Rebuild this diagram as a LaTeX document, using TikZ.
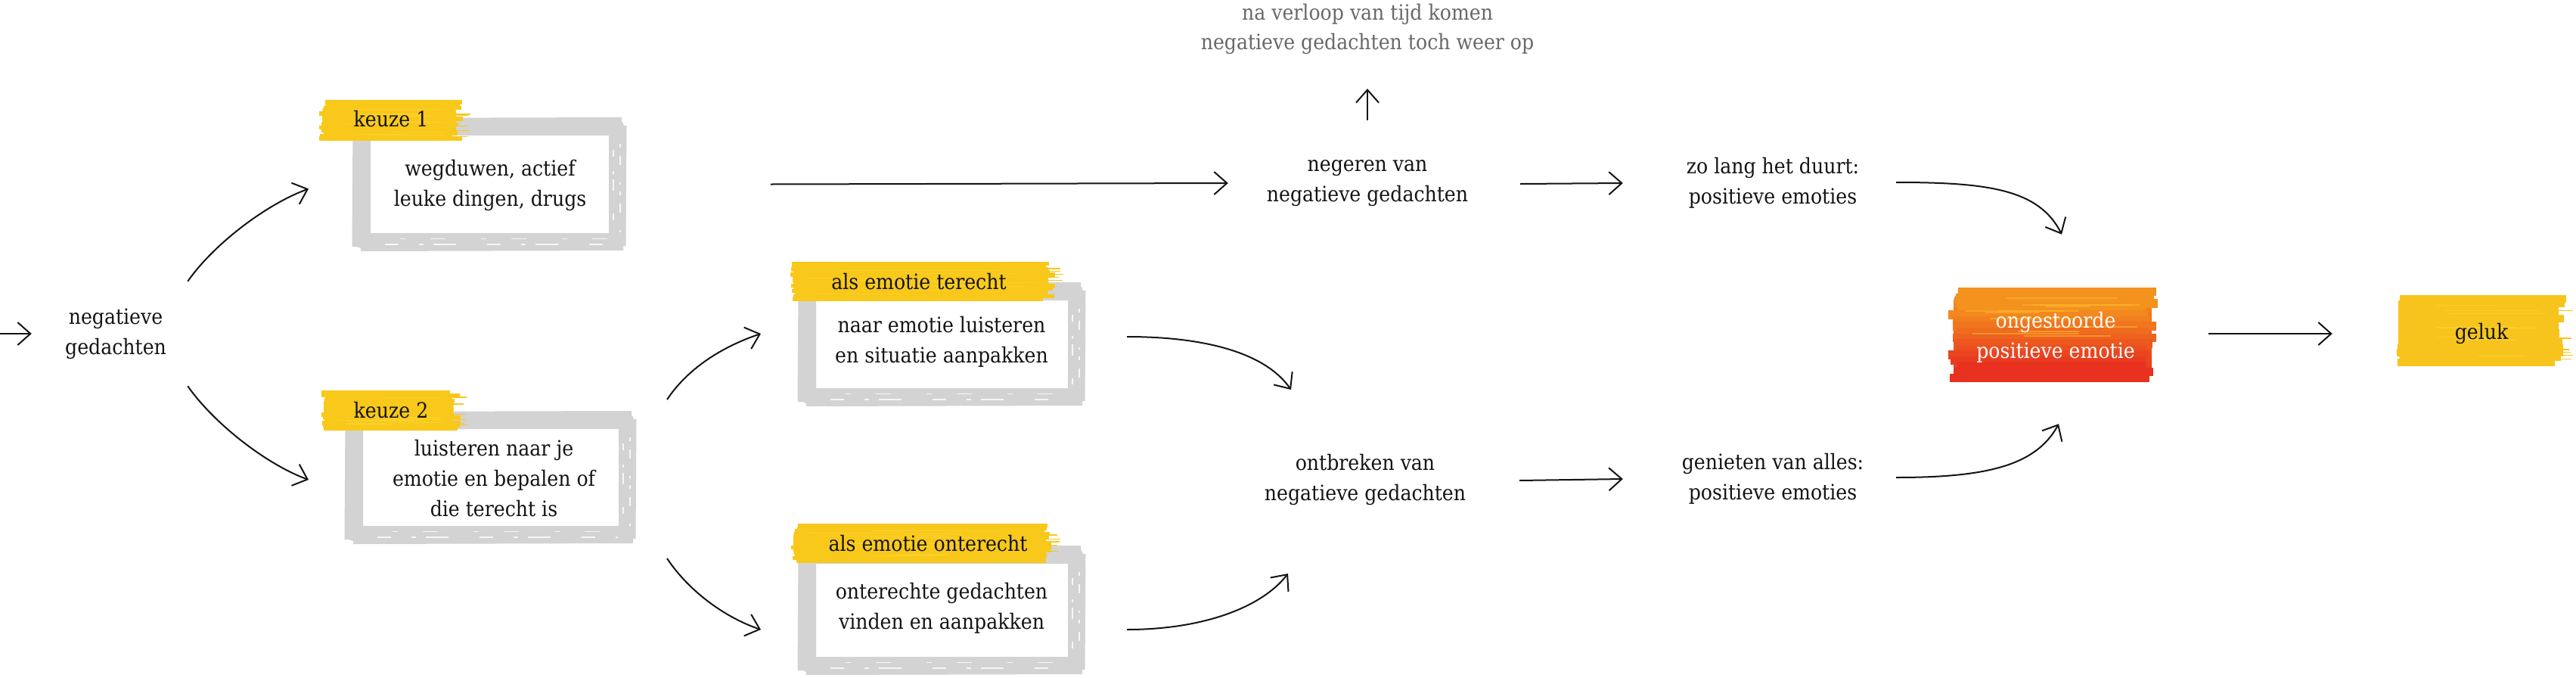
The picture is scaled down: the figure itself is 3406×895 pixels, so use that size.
\documentclass[tikz,border=0pt]{standalone}
\usepackage{fontspec}
\setmainfont{DejaVu Serif Condensed}
\usetikzlibrary{arrows.meta}
\definecolor{ink}{HTML}{141414}
\definecolor{greytext}{HTML}{686868}
\definecolor{framegrey}{HTML}{D3D3D3}
\definecolor{yel}{HTML}{F8C81A}
\definecolor{yellight}{HTML}{FFD83C}
\definecolor{yelgold}{HTML}{F6C41C}
\definecolor{brorange}{HTML}{F4921E}
\definecolor{brred}{HTML}{E8321F}
\definecolor{bryellow}{HTML}{FBB42C}

\newcommand\brush[6]{% x0 y0 x1 y1 main streak
  \fill[#5, rounded corners=12pt] (#1+6,#2+3) rectangle (#3-14,#4-3);
  \foreach \i in {0,...,13}{%
    \pgfmathsetmacro\yy{#2+(\i+0.5)*(#4-#2)/14}%
    \pgfmathsetmacro\xa{#1+2+rnd*10}%
    \pgfmathsetmacro\xb{#3-4-rnd*18}%
    \pgfmathsetmacro\lw{(#4-#2)/14*1.5}%
    \draw[#5, line width=\lw pt] (\xa,\yy) -- (\xb,\yy);
  }
  \foreach \i in {0,...,5}{%
    \pgfmathsetmacro\yy{#2+4+rnd*(#4-#2-8)}%
    \pgfmathsetmacro\xa{#3-40-rnd*30}%
    \pgfmathsetmacro\xb{#3+rnd*6}%
    \draw[#5, line width=1.3pt] (\xa,\yy) -- (\xb,\yy);
  }
  \foreach \i in {0,...,9}{%
    \pgfmathsetmacro\yy{#2+6+rnd*(#4-#2-12)}%
    \pgfmathsetmacro\xa{#1+20+rnd*(#3-#1)*0.4}%
    \pgfmathsetmacro\xb{min(\xa+40+rnd*(#3-#1)*0.5,#3-30)}%
    \draw[#6, line width=1.2pt, opacity=0.5] (\xa,\yy) -- (\xb,\yy);
  }
}
\newcommand\firebrush[4]{% x0 y0 x1 y1
  \shade[rounded corners=12pt, top color=brorange, bottom color=brred] (#1+8,#2+4) rectangle (#3-10,#4-4);
  \foreach \i in {0,...,15}{%
    \pgfmathsetmacro\yy{#2+(\i+0.5)*(#4-#2)/16}%
    \pgfmathsetmacro\xa{#1+rnd*14}%
    \pgfmathsetmacro\xb{#3-rnd*18}%
    \pgfmathsetmacro\lw{(#4-#2)/16*1.5}%
    \pgfmathsetmacro\pc{max(0,min(100,130-\i*150/15))}%
    \draw[brorange!\pc!brred, line width=\lw pt] (\xa,\yy) -- (\xb,\yy);
  }
  \foreach \i in {0,...,11}{%
    \pgfmathsetmacro\yy{#2+8+rnd*(#4-#2)*0.45}%
    \pgfmathsetmacro\xa{#1+20+rnd*(#3-#1)*0.4}%
    \pgfmathsetmacro\xb{min(\xa+40+rnd*(#3-#1)*0.5,#3-25)}%
    \draw[bryellow, line width=2pt, opacity=0.6] (\xa,\yy) -- (\xb,\yy);
  }
}
\newcommand\roughframe[1]{%
  \draw[framegrey, line width=6pt] ([shift={(-4,-9)}]#1.north west) -- ([shift={(6,-10)}]#1.north east);
  \draw[framegrey, line width=7pt] ([shift={(-9,-4)}]#1.north west) -- ([shift={(-10,7)}]#1.south west);
  \draw[framegrey, line width=6pt] ([shift={(-2,10)}]#1.south west) -- ([shift={(8,9)}]#1.south east);
  \draw[framegrey, line width=5pt] ([shift={(10,-2)}]#1.north east) -- ([shift={(9,6)}]#1.south east);
  \draw[white, opacity=0.8, line width=1.6pt, dash pattern=on 5pt off 11pt on 12pt off 23pt on 3pt off 9pt] ([shift={(4,22)}]#1.north east) -- ([shift={(4,-10)}]#1.south east);
  \draw[white, opacity=0.8, line width=1.2pt, dash pattern=on 9pt off 19pt on 4pt off 7pt on 15pt off 30pt] ([shift={(-5,30)}]#1.north east) -- ([shift={(-5,-16)}]#1.south east);
  \draw[white, opacity=0.8, line width=1.2pt, dash pattern=on 18pt off 27pt on 6pt off 13pt on 30pt off 41pt] ([shift={(30,4)}]#1.south west) -- ([shift={(-12,4)}]#1.south east);
  \draw[white, opacity=0.8, line width=1pt, dash pattern=on 7pt off 33pt on 20pt off 47pt] ([shift={(50,-4)}]#1.south west) -- ([shift={(-12,-4)}]#1.south east);
}

\begin{document}
\begin{tikzpicture}[x=1pt,y=-1pt,
  txt/.style={font=\fontsize{28}{40}\selectfont, text=ink, align=center, inner sep=0pt},
  frame/.style={draw=framegrey, line width=22pt, inner sep=0pt, outer sep=0pt, rounded corners=5pt},
  arr/.style={draw=ink, line width=2pt, -{Straight Barb[length=17pt,width=30pt,line width=2pt]}}]
\useasboundingbox (0,0) rectangle (3406,895);
\pgfmathsetseed{4711}

% frames
\node[frame, minimum width=337pt, minimum height=151pt] (k1f) at (647.5,243.5) {};
\node[frame, minimum width=360pt, minimum height=150pt] (k2f) at (649,631) {};
\node[frame, minimum width=355pt, minimum height=138pt] (tf) at (1245.5,455) {};
\node[frame, minimum width=355pt, minimum height=145pt] (of) at (1245.5,806.5) {};
\roughframe{k1f}
\roughframe{k2f}
\roughframe{tf}
\roughframe{of}

% brushes
\brush{420}{133}{617}{185}{yel}{yellight}
\brush{422}{517}{613}{568}{yel}{yellight}
\brush{1043}{347}{1400}{397}{yel}{yellight}
\brush{1043}{693}{1397}{743}{yel}{yellight}
\brush{3165}{392}{3397}{482}{yelgold}{yellight}
\firebrush{2575}{382}{2855}{503}

% text nodes
\coordinate (start) at (0,441);
\node[txt, minimum width=222pt, minimum height=138pt] (neg) at (153,441) {negatieve\\gedachten};
\node[txt] (k1l) at (517,157) {keuze 1};
\node[txt] (k2l) at (517,542) {keuze 2};
\node[txt] (k1t) at (648,245) {wegduwen, actief\\leuke dingen, drugs};
\node[txt] (k2t) at (653,632) {luisteren naar je\\emotie en bepalen of\\die terecht is};
\node[txt] (tl) at (1215,372) {als emotie terecht};
\node[txt] (ol) at (1227,718) {als emotie onterecht};
\node[txt] (tt) at (1245,452) {naar emotie luisteren\\en situatie aanpakken};
\node[txt] (ot) at (1245,804) {onterechte gedachten\\vinden en aanpakken};
\node[txt, minimum width=368pt, minimum height=166pt] (ng) at (1808,242) {negeren van\\negatieve gedachten};
\node[txt, text=greytext, minimum height=158pt, font=\fontsize{28}{39}\selectfont] (gt) at (1808,38) {na verloop van tijd komen\\negatieve gedachten toch weer op};
\node[txt] (ob) at (1805,634) {ontbreken van\\negatieve gedachten};
\node[txt, minimum width=396pt] (zl) at (2344,242) {zo lang het duurt:\\positieve emoties};
\node[txt, minimum width=396pt] (gn) at (2344,633) {genieten van alles:\\positieve emoties};
\node[txt, text=white, minimum width=404pt, minimum height=272pt] (og) at (2718,446) {ongestoorde\\positieve emotie};
\node[txt, minimum width=394pt] (gl) at (3281,441) {geluk};

% connectors
\draw[arr] (start) -- (neg.west);
\draw[arr] ([shift={(-16,0)}]neg.north east) .. controls +(35,-50) and +(-55,20) .. ([shift={(-71,6)}]k1f.west);
\draw[arr] ([shift={(-16,0)}]neg.south east) .. controls +(35,50) and +(-55,-20) .. ([shift={(-61,3)}]k2f.west);
\draw[arr] ([shift={(203,0)}]k1f.east) -- (ng.west);
\draw[arr] ([shift={(53,-28)}]k2f.north east) .. controls +(30,-45) and +(-45,15) .. ([shift={(-62,-14)}]tf.west);
\draw[arr] ([shift={(53,32)}]k2f.south east) .. controls +(30,45) and +(-45,-15) .. ([shift={(-62,25.5)}]of.west);
\draw[arr] ([shift={(67,-10)}]tf.east) .. controls +(100,0) and +(-35,-50) .. ([shift={(-98,-119)}]ob.center);
\draw[arr] ([shift={(67,25.5)}]of.east) .. controls +(100,0) and +(-35,45) .. ([shift={(-102,124)}]ob.center);
\draw[arr] (ng.north) -- (gt.south);
\draw[arr] ([shift={(18,1)}]ng.east) -- (zl.west);
\draw[arr] ([shift={(204,1)}]ob.center) -- (gn.west);
\draw[arr] ([shift={(-35,-1)}]zl.east) .. controls +(120,0) and +(-30,-60) .. ([shift={(8,0)}]og.north);
\draw[arr] ([shift={(-35,-2)}]gn.east) .. controls +(120,0) and +(-30,55) .. ([shift={(4,-22)}]og.south);
\draw[arr] ([shift={(0,-5)}]og.east) -- (gl.west);
\end{tikzpicture}
\end{document}
